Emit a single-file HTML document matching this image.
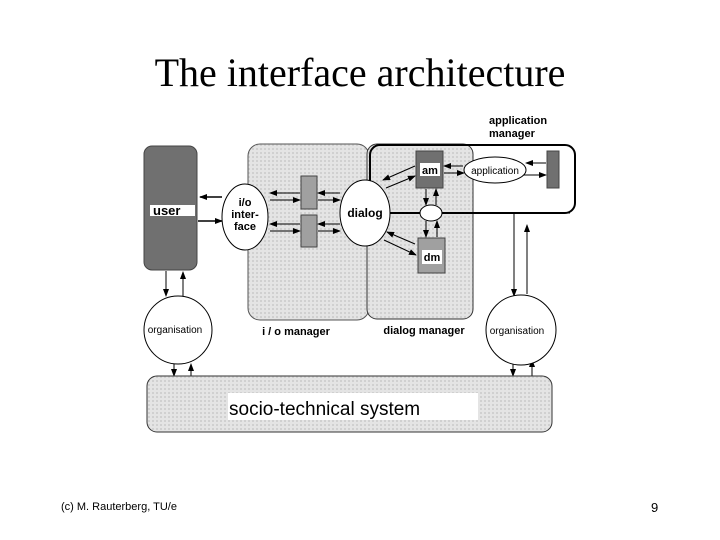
<!DOCTYPE html>
<html><head><meta charset="utf-8"><style>
html,body{margin:0;padding:0;background:#fff;width:720px;height:540px;overflow:hidden}
svg{display:block}
</style></head><body>
<svg width="720" height="540" viewBox="0 0 720 540" xmlns="http://www.w3.org/2000/svg" font-family="Liberation Sans, Arial, sans-serif">
<defs>
<marker id="a" markerWidth="8" markerHeight="6" refX="7" refY="3" orient="auto" markerUnits="userSpaceOnUse"><path d="M0,0 L8,3 L0,6z" fill="#000"/></marker>
<pattern id="p" width="4" height="4" patternUnits="userSpaceOnUse"><rect width="4" height="4" fill="#e4e4e4"/><rect width="2" height="2" fill="#d0d0d0"/></pattern>
</defs>
<text x="360" y="86" text-anchor="middle" font-family="Liberation Serif, serif" font-size="40">The interface architecture</text>

<!-- i/o manager and dialog manager -->
<rect x="248" y="144" width="121" height="176" rx="12" fill="url(#p)" stroke="#555" stroke-width="1"/>
<rect x="367" y="144" width="106" height="175" rx="10" fill="url(#p)" stroke="#333" stroke-width="1"/>
<!-- application manager -->
<rect x="370" y="145" width="205" height="68" rx="10" fill="none" stroke="#000" stroke-width="2"/>
<text x="489" y="124" font-size="11" font-weight="bold">application</text>
<text x="489" y="137" font-size="11" font-weight="bold">manager</text>

<!-- user -->
<rect x="144" y="146" width="53" height="124" rx="8" fill="#707070" stroke="#444"/>
<rect x="150" y="205" width="45" height="11" fill="#fff"/>
<text x="153" y="215" font-size="13" font-weight="bold">user</text>

<!-- arrows user <-> io -->
<line x1="222" y1="197" x2="200" y2="197" stroke="#000" stroke-width="1.5" marker-end="url(#a)"/>
<line x1="198" y1="221" x2="222" y2="221" stroke="#000" stroke-width="1.5" marker-end="url(#a)"/>

<!-- io interface -->
<ellipse cx="245" cy="217" rx="23" ry="33" fill="#fff" stroke="#000"/>
<text x="245" y="206" font-size="11" font-weight="bold" text-anchor="middle">i/o</text>
<text x="245" y="218" font-size="11" font-weight="bold" text-anchor="middle">inter-</text>
<text x="245" y="230" font-size="11" font-weight="bold" text-anchor="middle">face</text>

<!-- small rects -->
<rect x="301" y="176" width="16" height="33" fill="#a0a0a0" stroke="#444"/>
<rect x="301" y="215" width="16" height="32" fill="#a0a0a0" stroke="#444"/>
<g stroke="#000" stroke-width="1" fill="none">
<line x1="300" y1="193" x2="270" y2="193" marker-end="url(#a)"/>
<line x1="270" y1="200" x2="300" y2="200" marker-end="url(#a)"/>
<line x1="300" y1="224" x2="270" y2="224" marker-end="url(#a)"/>
<line x1="270" y1="231" x2="300" y2="231" marker-end="url(#a)"/>
<line x1="340" y1="193" x2="318" y2="193" marker-end="url(#a)"/>
<line x1="318" y1="200" x2="340" y2="200" marker-end="url(#a)"/>
<line x1="340" y1="224" x2="318" y2="224" marker-end="url(#a)"/>
<line x1="318" y1="231" x2="340" y2="231" marker-end="url(#a)"/>
</g>

<!-- dialog -->
<ellipse cx="365" cy="213" rx="25" ry="33" fill="#fff" stroke="#000"/>
<text x="365" y="217" font-size="12" font-weight="bold" text-anchor="middle">dialog</text>

<!-- am -->
<rect x="416" y="151" width="27" height="37" fill="#707070" stroke="#444"/>
<rect x="420" y="163" width="20" height="13" fill="#fff"/>
<text x="430" y="174" font-size="11" font-weight="bold" text-anchor="middle">am</text>
<!-- dm -->
<rect x="418" y="238" width="27" height="35" fill="#a0a0a0" stroke="#444"/>
<rect x="422" y="250" width="20" height="14" fill="#fff"/>
<text x="432" y="261" font-size="11" font-weight="bold" text-anchor="middle">dm</text>

<!-- application -->
<ellipse cx="495" cy="170" rx="31" ry="13" fill="#fff" stroke="#000"/>
<text x="495" y="174" font-size="10" text-anchor="middle">application</text>
<rect x="547" y="151" width="12" height="37" fill="#707070" stroke="#444"/>

<!-- small ellipse -->
<ellipse cx="431" cy="213" rx="11" ry="8" fill="#fff" stroke="#000"/>
<g stroke="#000" stroke-width="1" fill="none">
<line x1="390" y1="213" x2="420" y2="213"/>
<line x1="442" y1="213" x2="570" y2="213"/>
<line x1="415" y1="166" x2="383" y2="180" marker-end="url(#a)"/>
<line x1="386" y1="188" x2="415" y2="176" marker-end="url(#a)"/>
<line x1="415" y1="244" x2="387" y2="232" marker-end="url(#a)"/>
<line x1="384" y1="240" x2="416" y2="255" marker-end="url(#a)"/>
<line x1="426" y1="189" x2="426" y2="205" marker-end="url(#a)"/>
<line x1="436" y1="205" x2="436" y2="189" marker-end="url(#a)"/>
<line x1="426" y1="221" x2="426" y2="237" marker-end="url(#a)"/>
<line x1="437" y1="237" x2="437" y2="221" marker-end="url(#a)"/>
<line x1="463" y1="166" x2="444" y2="166" marker-end="url(#a)"/>
<line x1="444" y1="173" x2="464" y2="173" marker-end="url(#a)"/>
<line x1="546" y1="163" x2="526" y2="163" marker-end="url(#a)"/>
<line x1="524" y1="175" x2="546" y2="175" marker-end="url(#a)"/>
<!-- user <-> organisation -->
<line x1="166" y1="271" x2="166" y2="296" marker-end="url(#a)"/>
<line x1="183" y1="296" x2="183" y2="272" marker-end="url(#a)"/>
<line x1="174" y1="364" x2="174" y2="376" marker-end="url(#a)"/>
<line x1="191" y1="376" x2="191" y2="364" marker-end="url(#a)"/>
<!-- app manager <-> organisation -->
<line x1="514" y1="214" x2="514" y2="296" marker-end="url(#a)"/>
<line x1="527" y1="294" x2="527" y2="225" marker-end="url(#a)"/>
<line x1="513" y1="360" x2="513" y2="376" marker-end="url(#a)"/>
<line x1="532" y1="376" x2="532" y2="360" marker-end="url(#a)"/>
</g>

<text x="296" y="335" font-size="11" font-weight="bold" text-anchor="middle">i / o manager</text>
<text x="424" y="334" font-size="11" font-weight="bold" text-anchor="middle">dialog manager</text>

<!-- organisations -->
<circle cx="178" cy="330" r="34" fill="#fff" stroke="#000"/>
<text x="175" y="333" font-size="10" text-anchor="middle">organisation</text>
<circle cx="521" cy="330" r="35" fill="#fff" stroke="#000"/>
<text x="517" y="334" font-size="10" text-anchor="middle">organisation</text>

<!-- socio-technical -->
<rect x="147" y="376" width="405" height="56" rx="10" fill="url(#p)" stroke="#333"/>
<rect x="228" y="393" width="250" height="27" fill="#fff"/>
<text x="229" y="415" font-size="19">socio-technical system</text>

<text x="61" y="510" font-size="11">(c) M. Rauterberg, TU/e</text>
<text x="651" y="512" font-size="13">9</text>
</svg>
</body></html>
